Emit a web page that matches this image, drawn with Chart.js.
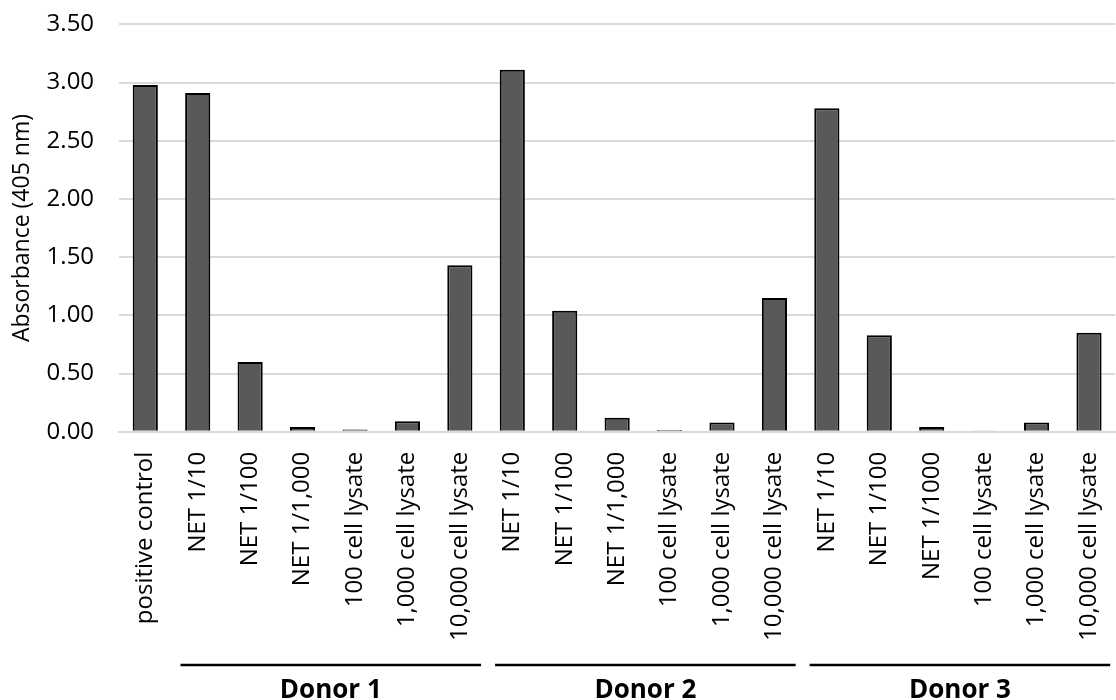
<!DOCTYPE html>
<html>
<head>
<meta charset="utf-8">
<script src="https://cdn.jsdelivr.net/npm/chart.js@4/dist/chart.umd.min.js"></script>
<style>
  html, body { margin: 0; padding: 0; background: #fff; }
  #wrap { width: 1116px; height: 700px; }
</style>
</head>
<body>
<div id="wrap"><canvas id="absChart" width="1116" height="700"></canvas></div>
<script>
// Absorbance per sample, three donors

var samples = ['positive control',
  'NET 1/10', 'NET 1/100', 'NET 1/1,000', '100 cell lysate', '1,000 cell lysate', '10,000 cell lysate',
  'NET 1/10', 'NET 1/100', 'NET 1/1,000', '100 cell lysate', '1,000 cell lysate', '10,000 cell lysate',
  'NET 1/10', 'NET 1/100', 'NET 1/1000', '100 cell lysate', '1,000 cell lysate', '10,000 cell lysate'];
var absorbance = [2.98,
  2.91, 0.60, 0.04, 0.02, 0.09, 1.43,
  3.11, 1.04, 0.12, 0.015, 0.08, 1.15,
  2.78, 0.83, 0.04, 0.007, 0.08, 0.85];
var donors = ['Donor 1', 'Donor 2', 'Donor 3'];
var donorFirst = [1, 7, 13];
var donorLast = [6, 12, 18];
var yTicks = [0, 0.5, 1, 1.5, 2, 2.5, 3, 3.5];

var fontName = "'Open Sans', 'DejaVu Sans', sans-serif";

// draws the line + bold name under each donor's group of bars
var donorGroups = {
  id: 'donorGroups',
  afterDraw: function(chart) {
    var ctx = chart.ctx;
    var x = chart.scales.x;
    var half = (x.getPixelForValue(1) - x.getPixelForValue(0)) / 2;
    ctx.save();
    for (var i = 0; i < donors.length; i++) {
      var x0 = x.getPixelForValue(donorFirst[i]) - half + 9;
      var x1 = x.getPixelForValue(donorLast[i]) + half - 5;
      ctx.strokeStyle = '#000';
      ctx.lineWidth = 2.5;
      ctx.beginPath();
      ctx.moveTo(x0, chart.height - 35);
      ctx.lineTo(x1, chart.height - 35);
      ctx.stroke();
      ctx.fillStyle = '#000';
      ctx.font = 'bold 26px ' + fontName;
      ctx.textAlign = 'center';
      ctx.textBaseline = 'alphabetic';
      ctx.fillText(donors[i], (x0 + x1) / 2, chart.height - 2);
    }
    ctx.restore();
  }
};

var ctx = document.getElementById('absChart');

var absChart = new Chart(ctx, {
    type: 'bar',
    data: {
	labels: samples,
	datasets: [{
	    label: 'Absorbance',
	    data: absorbance,
	    backgroundColor: '#595959',
	    borderColor: '#000',
	    borderWidth: 2,
	    barPercentage: 0.48,
	    categoryPercentage: 1.0
	}]
    },
    options: {
	responsive: false,
	animation: false,
	layout: { padding: { top: 0, right: 0, bottom: 56, left: 9 } },
	plugins: {
	    legend: { display: false },
	    tooltip: { enabled: false }
	},
	scales: {
	    x: {
		grid: { display: true, drawOnChartArea: false, tickLength: 17, tickColor: 'transparent' },
		border: { color: '#d9d9d9', width: 2 },
		ticks: {
		    color: '#000',
		    font: { family: fontName, size: 24, lineHeight: 1.0 },
		    minRotation: 90,
		    maxRotation: 90,
		    autoSkip: false,
		    padding: 3
		}
	    },
	    y: {
		min: 0,
		max: 3.5,
		afterBuildTicks: function(axis) {
		    axis.ticks = yTicks.map(function(v) { return { value: v }; });
		},
		grid: { color: '#d9d9d9', lineWidth: 2, tickLength: 15, tickColor: 'transparent' },
		border: { display: false },
		ticks: {
		    color: '#000',
		    font: { family: fontName, size: 24 },
		    padding: 10,
		    callback: function(v) { return v.toFixed(2); }
		},
		title: {
		    display: true,
		    text: 'Absorbance (405 nm)',
		    color: '#000',
		    font: { family: fontName, size: 23 },
		    padding: { top: 0, bottom: 0 }
		}
	    }
	}
    },
    plugins: [donorGroups]
});
</script>
</body>
</html>
